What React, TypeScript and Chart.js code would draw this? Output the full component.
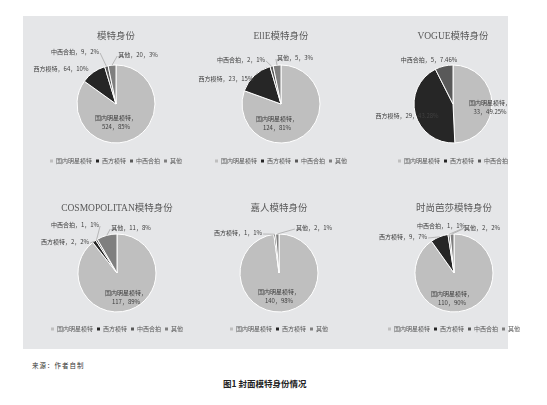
import { useEffect, useRef } from "react";
import { Chart, registerables } from "chart.js";

Chart.register(...registerables);

// categories
const fullCats = ["国内明星模特", "西方模特", "中西合拍", "其他"];
const vogueCats = ["国内明星模特", "西方模特", "中西合拍"];
const jiarenCats = ["国内明星模特", "西方模特", "其他"];

// titles
const titles = [
  "模特身份",
  "EllE模特身份",
  "VOGUE模特身份",
  "COSMOPOLITAN模特身份",
  "嘉人模特身份",
  "时尚芭莎模特身份",
];

// values + percentage labels
const allValues = [524, 64, 9, 20];
const allPct = ["85%", "10%", "2%", "3%"];
const elleValues = [124, 23, 2, 5];
const ellePct = ["81%", "15%", "1%", "3%"];
const vogueValues = [33, 29, 5];
const voguePct = ["49.25%", "43.28%", "7.46%"];
const cosmoValues = [117, 2, 1, 11];
const cosmoPct = ["89%", "2%", "1%", "8%"];
const jiarenValues = [140, 1, 2];
const jiarenPct = ["98%", "1%", "1%"];
const bazaarValues = [110, 9, 1, 2];
const bazaarPct = ["90%", "7%", "1%", "2%"];

const sliceColors: Record<string, string> = {
  国内明星模特: "#bfbfbf",
  西方模特: "#262626",
  中西合拍: "#595959",
  其他: "#7f7f7f",
};

const TITLE_FONT = "'Liberation Serif', 'Noto Sans CJK SC', serif";
const LABEL_FONT = "'Noto Sans CJK SC', sans-serif";

type PanelProps = {
  title: string;
  cats: string[];
  values: number[];
  pcts: string[];
  offsets: number[][]; // label offsets from pie centre
  leaders: boolean[];
  row: number;
  cx: number;
};

const W = 170;
const H = 166;
const R = 39;
const rowTop = [15, 183];
const titlePad = [
  { top: 15.3, bottom: 12.3 },
  { top: 19.3, bottom: 10.3 },
];

const PiePanel = ({ title, cats, values, pcts, offsets, leaders, row, cx }: PanelProps) => {
  const chartRef = useRef<HTMLCanvasElement>(null);

  useEffect(() => {
    const ctx = chartRef.current!.getContext("2d")!;

    const sliceLabels = {
      id: "sliceLabels",
      afterDatasetsDraw: (chart: any) => {
        const c = chart.ctx;
        const meta = chart.getDatasetMeta(0);
        meta.data.forEach((arc: any, i: number) => {
          const { x, y, outerRadius, startAngle, endAngle } = arc.getProps(
            ["x", "y", "outerRadius", "startAngle", "endAngle"],
            true
          );
          const mid = (startAngle + endAngle) / 2;
          const lx = x + offsets[i][0];
          const ly = y + offsets[i][1];
          c.save();
          c.font = `6px ${LABEL_FONT}`;
          c.fillStyle = "#404040";
          c.textAlign = "center";
          c.textBaseline = "middle";
          if (i === 0) {
            c.fillText(`${cats[i]}，`, lx, ly - 4.7);
            c.fillText(`${values[i]}，${pcts[i]}`, lx, ly + 4.7);
          } else {
            const text = `${cats[i]}，${values[i]}，${pcts[i]}`;
            c.fillText(text, lx, ly);
            if (leaders[i]) {
              const w = c.measureText(text).width;
              const ex = x + Math.cos(mid) * outerRadius;
              const ey = y + Math.sin(mid) * outerRadius;
              const sx = ex > lx ? lx + w / 2 + 1 : lx - w / 2 - 1;
              c.strokeStyle = "#a6a6a6";
              c.lineWidth = 0.75;
              c.beginPath();
              c.moveTo(sx, ly + 1);
              c.lineTo(ex, ey);
              c.stroke();
            }
          }
          c.restore();
        });
      },
    };

    const chart = new Chart(ctx, {
      type: "pie",
      data: {
        labels: cats,
        datasets: [
          {
            data: values,
            backgroundColor: cats.map((k) => sliceColors[k]),
            borderColor: "#ffffff",
            borderWidth: 1,
            radius: R,
          } as any,
        ],
      },
      options: {
        animation: false,
        responsive: false,
        layout: { padding: { bottom: 7 } },
        plugins: {
          title: {
            display: true,
            text: title,
            color: "#595959",
            font: { family: TITLE_FONT, size: 9.5, weight: "normal", lineHeight: 1.2 },
            padding: titlePad[row],
          },
          legend: {
            position: "bottom",
            labels: {
              boxWidth: 3,
              boxHeight: 3,
              padding: 4,
              color: "#595959",
              font: { family: LABEL_FONT, size: 6 },
              generateLabels: (ch: any) =>
                (Chart as any).overrides.pie.plugins.legend.labels
                  .generateLabels(ch)
                  .map((it: any) => ({ ...it, lineWidth: 0 })),
            },
          },
          tooltip: { enabled: false },
        },
      },
      plugins: [sliceLabels],
    });

    return () => {
      chart.destroy();
    };
  }, [title, cats, values, pcts, offsets, leaders, row]);

  return (
    <canvas
      ref={chartRef}
      width={W}
      height={H}
      style={{ position: "absolute", left: cx - W / 2, top: rowTop[row], width: W, height: H }}
    />
  );
};

export default function App() {
  return (
    <div
      style={{
        position: "fixed",
        left: 0,
        top: 0,
        width: 547,
        height: 405,
        background: "#ffffff",
        overflow: "hidden",
      }}
    >
      <div
        style={{
          position: "absolute",
          left: 23,
          top: 16,
          width: 485,
          height: 333,
          background: "#e5e6e8",
        }}
      />
      <PiePanel
        title={titles[0]}
        cats={fullCats}
        values={allValues}
        pcts={allPct}
        offsets={[[0, 18.5], [-55, -35], [-41, -52], [22, -49]]}
        leaders={[false, false, true, true]}
        row={0}
        cx={116}
      />
      <PiePanel
        title={titles[1]}
        cats={fullCats}
        values={elleValues}
        pcts={ellePct}
        offsets={[[-4, 19.5], [-55, -25], [-40, -44], [14, -46]]}
        leaders={[false, false, true, true]}
        row={0}
        cx={281}
      />
      <PiePanel
        title={titles[2]}
        cats={vogueCats}
        values={vogueValues}
        pcts={voguePct}
        offsets={[[37, 3.5], [-46, 12], [-24, -44]]}
        leaders={[false, false, false]}
        row={0}
        cx={453}
      />
      <PiePanel
        title={titles[3]}
        cats={fullCats}
        values={cosmoValues}
        pcts={cosmoPct}
        offsets={[[9, 24], [-52, -31], [-42, -48], [14, -45]]}
        leaders={[false, true, true, true]}
        row={1}
        cx={117}
      />
      <PiePanel
        title={titles[4]}
        cats={jiarenCats}
        values={jiarenValues}
        pcts={jiarenPct}
        offsets={[[0, 23], [-41, -40], [35, -45]]}
        leaders={[false, true, true]}
        row={1}
        cx={279}
      />
      <PiePanel
        title={titles[5]}
        cats={fullCats}
        values={bazaarValues}
        pcts={bazaarPct}
        offsets={[[-2, 25], [-51, -36], [-13, -47], [28, -45]]}
        leaders={[false, true, true, true]}
        row={1}
        cx={454}
      />
      <div
        style={{
          position: "absolute",
          left: 32,
          top: 360,
          fontFamily: LABEL_FONT,
          fontSize: 6.5,
          letterSpacing: 1,
          color: "#333333",
          whiteSpace: "nowrap",
        }}
      >
        来源：作者自制
      </div>
      <div
        style={{
          position: "absolute",
          left: 223,
          top: 377,
          fontFamily: LABEL_FONT,
          fontSize: 8.5,
          fontWeight: "bold",
          color: "#222222",
          whiteSpace: "nowrap",
        }}
      >
        图1 封面模特身份情况
      </div>
    </div>
  );
}
